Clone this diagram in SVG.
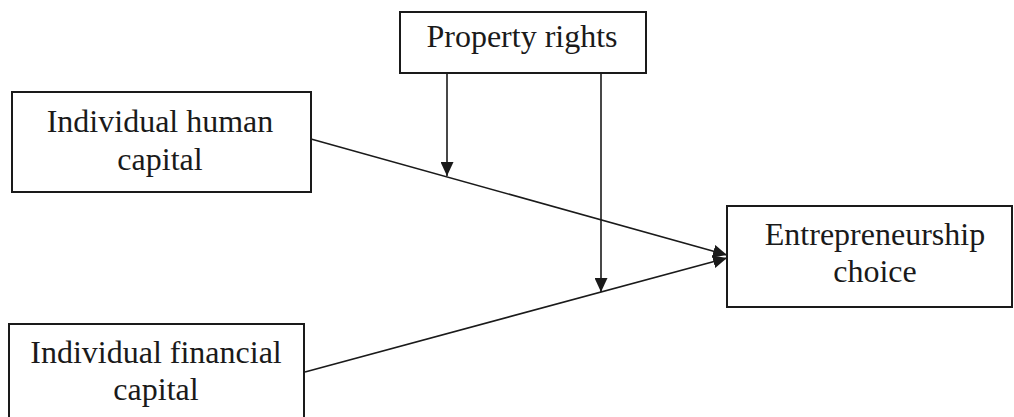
<svg xmlns="http://www.w3.org/2000/svg" width="1014" height="417" viewBox="0 0 1014 417">
<style>
.box{fill:#fff;stroke:#1a1a1a;stroke-width:2}
.lbl{font-size:32px;fill:#1a1a1a;text-anchor:middle}
.edge{stroke:#1a1a1a;stroke-width:1.6;fill:none;marker-end:url(#ah)}
</style>
<defs>
<marker id="ah" markerUnits="userSpaceOnUse" markerWidth="15" markerHeight="13" refX="14" refY="6.5" orient="auto">
<path d="M0,0 L14,6.5 L0,13 Z" fill="#1a1a1a"/>
</marker>
</defs>
<rect width="1014" height="417" fill="#fff"/>
<g id="connectors">
<line class="edge" x1="311" y1="139" x2="727" y2="255"/>
<line class="edge" x1="305" y1="372" x2="727" y2="258"/>
<line class="edge" x1="447" y1="74" x2="447" y2="176"/>
<line class="edge" x1="601" y1="74" x2="601" y2="292"/>
</g>
<g font-family="'Liberation Serif', 'Times New Roman', Times, serif">
<g id="property-rights">
<rect class="box" x="400" y="12" width="246" height="61"/>
<text class="lbl" x="522" y="47">Property rights</text>
</g>
<g id="human-capital">
<rect class="box" x="12" y="92" width="299" height="100"/>
<text class="lbl" x="160" y="132">Individual human</text>
<text class="lbl" x="160" y="170">capital</text>
</g>
<g id="financial-capital">
<rect class="box" x="9" y="324" width="295" height="100"/>
<text class="lbl" x="156" y="363">Individual financial</text>
<text class="lbl" x="156" y="400">capital</text>
</g>
<g id="entrepreneurship-choice">
<rect class="box" x="727" y="206" width="285" height="101"/>
<text class="lbl" x="875" y="245">Entrepreneurship</text>
<text class="lbl" x="875" y="282">choice</text>
</g>
</g>
</svg>
